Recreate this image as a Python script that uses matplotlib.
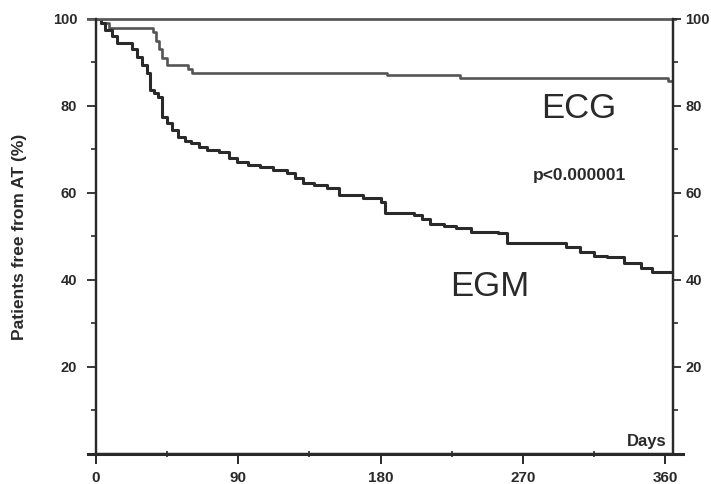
import matplotlib
matplotlib.use("Agg")
import matplotlib.pyplot as plt
from matplotlib.ticker import MultipleLocator

# Kaplan-Meier curves (days, % free from AT)
ecg_days = [0, 3, 8, 33, 36, 38, 40, 42, 45, 55, 58, 61, 184, 230, 362, 365]
ecg_surv = [100, 99, 98, 98, 97, 95, 93, 91, 89.4, 89.4, 88.5, 87.6, 87.0, 86.4, 85.7, 85.7]

egm_days = [0, 3, 6, 10, 13, 20, 23, 26, 29, 32,
            34, 37, 39, 42, 45, 48, 52, 56, 60, 65,
            70, 78, 84, 89, 96, 104, 112, 121, 126, 131,
            138, 146, 154, 169, 180, 183, 201, 206, 211, 220,
            228, 237, 254, 260, 289, 297, 306, 315, 323, 334,
            345, 352, 365]
egm_surv = [100, 99, 97.5, 96, 94.5, 94.5, 93, 91.3, 89.5, 87.6,
            83.7, 83, 82, 77.5, 76, 74.5, 72.9, 72, 71.5, 70.5,
            69.9, 69.4, 68, 67.1, 66.5, 66, 65.2, 64.6, 63.5, 62.3,
            61.8, 61.1, 59.5, 58.9, 57.9, 55.4, 54.9, 54, 52.9, 52.5,
            52.0, 51.0, 50.8, 48.5, 48.5, 47.5, 46.4, 45.5, 45.3, 43.9,
            42.8, 41.8, 41.8]

x_ticks = [0, 90, 180, 270, 360]
y_ticks = [20, 40, 60, 80, 100]

plt.rcParams["font.family"] = ["Liberation Sans", "DejaVu Sans"]
ink = "#2a2a2a"
grey = "#555555"

fig = plt.figure(figsize=(7.11, 4.84), dpi=100)
ax = fig.add_axes([0.135, 0.062, 0.8116, 0.899])

ax.step(ecg_days, ecg_surv, where="post", color=grey, lw=1.9)
ax.step(egm_days, egm_surv, where="post", color=ink, lw=2.2)

ax.set_xlim(0, 365)
ax.set_ylim(0, 100)

ax.set_xticks(x_ticks)
ax.xaxis.set_minor_locator(MultipleLocator(45))
ax.set_yticks(y_ticks)
ax.yaxis.set_minor_locator(MultipleLocator(10))

ax.tick_params(axis="x", which="major", direction="out", length=7, width=1.4,
               colors=ink, labelsize=11, pad=5)
ax.tick_params(axis="x", which="minor", direction="inout", length=5, width=1.2,
               colors=ink)
ax.tick_params(axis="y", which="major", direction="out", length=6.5, width=1.3,
               colors=ink, labelsize=10.5, pad=7)
ax.tick_params(axis="y", which="minor", direction="out", length=3.5, width=1.2,
               colors=ink)

# right-hand copy of the percent axis
ax2 = ax.twinx()
ax2.set_ylim(0, 100)
ax2.set_yticks(y_ticks)
ax2.yaxis.set_minor_locator(MultipleLocator(10))
ax2.tick_params(axis="y", which="major", direction="out", length=6, width=1.3,
                colors=ink, labelsize=10.5, pad=3)
ax2.tick_params(axis="y", which="minor", direction="out", length=3.5, width=1.2,
                colors=ink)

for lab in ax.get_xticklabels() + ax.get_yticklabels() + ax2.get_yticklabels():
    lab.set_fontweight("bold")

for a in (ax, ax2):
    for side in ["left", "right", "bottom"]:
        a.spines[side].set_color(ink)
        a.spines[side].set_linewidth(1.6)
    a.spines["top"].set_visible(False)

# axis lines poking out past the corners, as in the original
ax.plot([-0.014, 1.018], [0, 0], transform=ax.transAxes, color=ink,
        lw=2.2, clip_on=False)
ax.plot([-0.014, 1.003], [1, 1], transform=ax.transAxes, color="#5a5a5a",
        lw=2.0, clip_on=False)

ax.set_ylabel("Patients free from AT (%)", fontsize=12.5, fontweight="bold",
              color=ink)
ax.yaxis.set_label_coords(-0.12, 0.5)

ax.text(305.5, 79.5, "ECG", fontsize=25, color=ink, ha="center", va="center")
ax.text(249, 38.4, "EGM", fontsize=25, color=ink, ha="center", va="center")
ax.text(306, 63.9, "p<0.000001", fontsize=12.5, fontweight="bold", color=ink,
        ha="center", va="center")
ax.text(361, 1.2, "Days", fontsize=12, fontweight="bold", color=ink,
        ha="right", va="bottom")

fig.savefig("out.png", dpi=100)
